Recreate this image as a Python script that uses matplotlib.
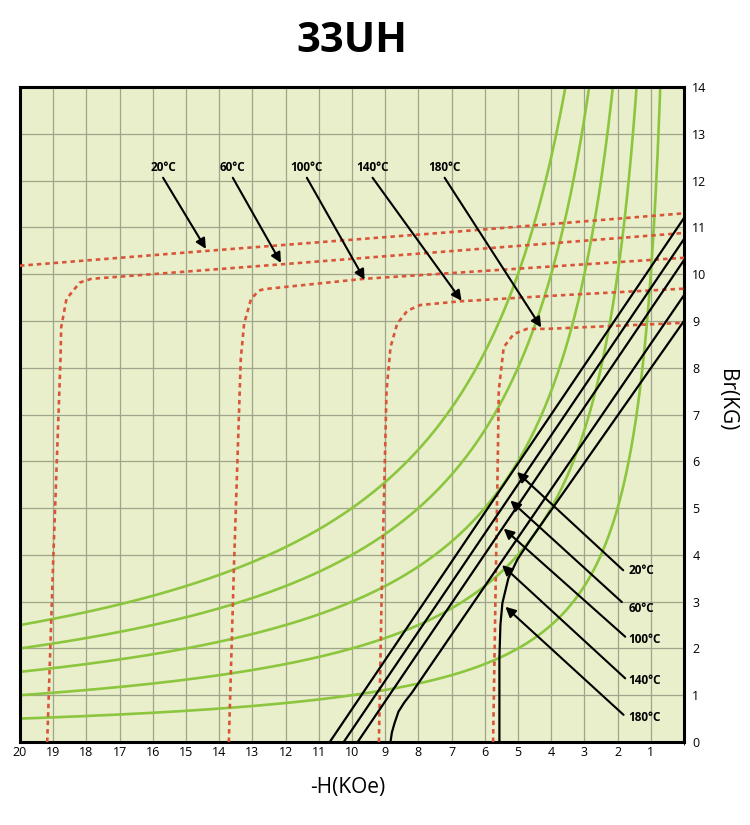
import numpy as np
import matplotlib.pyplot as plt

plt.rcParams['font.family'] = ['Open Sans', 'DejaVu Sans']

# temperatures
temps = ['20°C', '60°C', '100°C', '140°C', '180°C']

# energy product lines (MGOe), B*H = const
energy_products = [50, 40, 30, 20, 10]

# intrinsic curves (red dashed), -H in kOe / B in kG
j_h = [
    [20.0, 14.5, 7.0, 0.0],
    [19.18, 19.0, 18.78, 18.76, 18.6, 18.2, 17.85, 11.94, 0.0],
    [13.71, 13.55, 13.35, 13.25, 13.04, 12.8, 12.64, 9.64, 0.0],
    [9.19, 9.11, 8.96, 8.84, 8.64, 8.33, 7.94, 6.73, 3.93, 0.0],
    [5.75, 5.68, 5.6, 5.58, 5.43, 5.13, 4.73, 4.13, 0.0],
]
j_b = [
    [10.18, 10.49, 10.9, 11.3],
    [0.0, 3.88, 8.19, 8.86, 9.47, 9.82, 9.9, 10.22, 10.88],
    [0.0, 3.88, 8.19, 8.94, 9.47, 9.65, 9.68, 9.9, 10.35],
    [0.0, 3.03, 7.51, 8.44, 8.94, 9.22, 9.34, 9.42, 9.54, 9.69],
    [0.0, 3.03, 6.44, 7.51, 8.44, 8.72, 8.83, 8.83, 8.96],
]

# normal curves (black)
n_h = [
    [10.67, 0.0],
    [10.25, 0.0],
    [9.83, 0.0],
    [8.84, 8.8, 8.72, 8.6, 8.42, 8.2, 0.0],
    [5.56, 5.56, 5.53, 5.47, 5.29, 5.02, 4.6, 0.0],
]
n_b = [
    [0.0, 11.2],
    [0.0, 10.75],
    [0.0, 10.3],
    [0.0, 0.2, 0.4, 0.65, 0.85, 1.05, 9.55],
    [0.0, 1.8, 2.5, 2.97, 3.5, 3.9, 4.35, 9.0],
]

x_ticks = list(range(20, 0, -1))
y_ticks = list(range(0, 15))

fig = plt.figure(figsize=(7.5, 8.25), dpi=100)
ax = fig.add_axes([20 / 750, 1 - 742 / 825, 664 / 750, 655 / 825])
ax.set_facecolor('#e9efca')

# energy product hyperbolas
h = np.linspace(0.2, 20, 600)
for e in energy_products:
    ax.plot(h, e / h, color='#8cc63f', lw=1.9, zorder=2)

for hh, bb in zip(j_h, j_b):
    ax.plot(hh, bb, color='#d9553a', lw=1.9, linestyle=(0, (1.7, 1.5)), zorder=3)

for hh, bb in zip(n_h, n_b):
    ax.plot(hh, bb, color='black', lw=1.6, zorder=4)

arrow_style = dict(arrowstyle='-|>', color='black', lw=1.5, mutation_scale=15,
                   shrinkA=0, shrinkB=0)

# arrows, top labels (intrinsic curves)
top_text_h = [15.69, 13.59, 11.36, 9.38, 7.21]
top_tip = [(14.4, 10.54), (12.14, 10.24), (9.62, 9.88), (6.7, 9.43), (4.3, 8.86)]
for t, xh, tip in zip(temps, top_text_h, top_tip):
    ax.text(xh, 12.29, t, ha='center', va='center', fontsize=8.5, fontweight='bold', zorder=6)
    ax.annotate('', xy=tip, xytext=(xh, 12.06), arrowprops=arrow_style, zorder=6)

# arrows, right labels (normal curves)
right_text_b = [3.67, 2.86, 2.2, 1.32, 0.52]
right_start = [(1.83, 3.67), (1.87, 2.99), (1.77, 2.25), (1.77, 1.36), (1.82, 0.58)]
right_tip = [(5.03, 5.77), (5.23, 5.16), (5.43, 4.56), (5.48, 3.78), (5.38, 2.89)]
for t, yb, st, tip in zip(temps, right_text_b, right_start, right_tip):
    ax.text(1.68, yb, t, ha='left', va='center', fontsize=8.5, fontweight='bold', zorder=6)
    ax.annotate('', xy=tip, xytext=st, arrowprops=arrow_style, zorder=6)

ax.set_xlim(20, 0)
ax.set_ylim(0, 14)
ax.set_xticks(x_ticks)
ax.set_xticklabels([str(v) for v in x_ticks])
ax.yaxis.tick_right()
ax.set_yticks(y_ticks)
ax.set_yticklabels([str(v) for v in y_ticks])
ax.tick_params(axis='x', length=0, pad=3, labelsize=9)
ax.tick_params(axis='y', length=0, pad=6, labelsize=9)
ax.set_xticks(range(0, 21), minor=True)
ax.grid(True, which='both', color='#9ea58a', lw=0.9)
ax.set_axisbelow(True)
for s in ax.spines.values():
    s.set_linewidth(2.2)

fig.text(352 / 750, 1 - 42 / 825, '33UH', ha='center', va='center', fontsize=30, fontweight='bold')
fig.text(348 / 750, 1 - 787 / 825, '-H(KOe)', ha='center', va='center', fontsize=15)
fig.text(727 / 750, 1 - 400 / 825, 'Br(KG)', ha='center', va='center', fontsize=15, rotation=270)

fig.savefig('out.png', dpi=100)
